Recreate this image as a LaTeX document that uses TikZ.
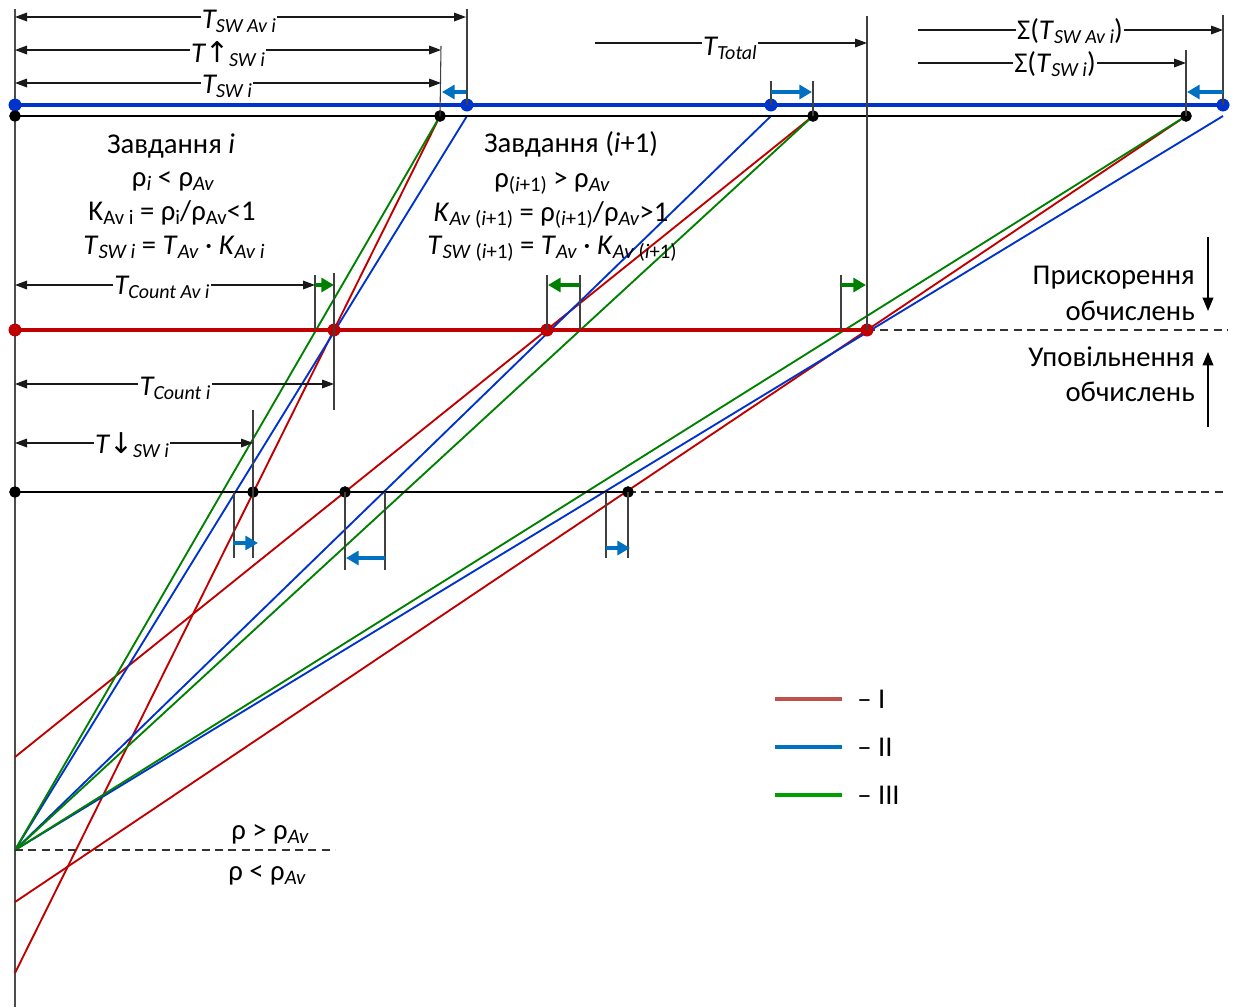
\documentclass[tikz,border=0pt]{standalone}
\usepackage{fontspec}
\setmainfont{Carlito}
\newfontfamily\arrowf{DejaVu Sans}
\usetikzlibrary{arrows.meta}
\definecolor{cred}{RGB}{192,0,0}
\definecolor{cblue}{RGB}{0,51,204}
\definecolor{cgreen}{RGB}{0,128,0}
\definecolor{carrow}{RGB}{0,112,192}
\definecolor{lred}{RGB}{192,80,77}
\definecolor{lblue}{RGB}{0,112,192}
\definecolor{lgreen}{RGB}{0,160,0}
\newcommand\mainsz{\fontsize{21.5}{25}\selectfont}
\newcommand\sbx[1]{\raisebox{-3.5pt}{\fontsize{15}{15}\selectfont #1}}
\newcommand\sbt[1]{\raisebox{-3pt}{\fontsize{15.5}{15}\selectfont #1}}
\tikzset{
  dim/.style={draw=black!90,line width=0.9pt},
  dimboth/.style={dim,{Triangle[length=9pt,width=6.5pt]}-{Triangle[length=9pt,width=6.5pt]}},
  dimright/.style={dim,-{Triangle[length=9pt,width=6.5pt]}},
  ext/.style={draw=black!75,line width=0.8pt},
  lab/.style={fill=white,inner sep=1pt,anchor=base,font=\mainsz},
  txt/.style={inner sep=0pt,anchor=base,font=\mainsz},
  shiftb/.style={draw=carrow,line width=2.5pt,-{Triangle[length=9.5pt,width=10.5pt]}},
  shiftg/.style={draw=cgreen,line width=2.5pt,-{Triangle[length=9.5pt,width=10.5pt]}},
  bdot/.style={circle,fill=cblue,inner sep=0pt,minimum size=9.5pt},
  kdot/.style={circle,fill=black,inner sep=0pt,minimum size=8.5pt},
  rdot/.style={circle,fill=cred,inner sep=0pt,minimum size=9.5pt},
  slr/.style={draw=cred,line width=1.4pt},
  slb/.style={draw=cblue,line width=1.4pt},
  slg/.style={draw=cgreen,line width=1.4pt},
  dashln/.style={draw=black!80,line width=0.8pt,dash pattern=on 6pt off 4pt},
  bigarr/.style={draw=black,line width=1.2pt,-{Triangle[length=10pt,width=8pt]}},
  leg/.style={line width=2.5pt}
}
\begin{document}
\begin{tikzpicture}[x=0.75pt,y=-0.75pt]
\useasboundingbox (0,0) rectangle (1237,1007);
% ---------- coordinates ----------
\coordinate (axT) at (15,9);
\coordinate (axB) at (15,1007);
\coordinate (F) at (15,850);
\coordinate (Fd) at (335,850);
\coordinate (R1s) at (15,973);
\coordinate (R2s) at (15,757);
\coordinate (R3s) at (15,902);
\coordinate (B1e) at (467,116);
\coordinate (B2e) at (771,116);
\coordinate (B3e) at (1223,116);
% ---------- dots (nodes) ----------
\node[bdot] (b0) at (15,105) {};
\node[bdot] (b1) at (467,105) {};
\node[bdot] (b2) at (771,105) {};
\node[bdot] (b3) at (1223,105) {};
\node[kdot] (k0) at (15,116) {};
\node[kdot] (k1) at (440,116) {};
\node[kdot] (k2) at (813,116) {};
\node[kdot] (k3) at (1186,116) {};
\node[rdot] (r0) at (15,330) {};
\node[rdot] (r1) at (334,330) {};
\node[rdot] (r2) at (547,330) {};
\node[rdot] (r3) at (867,330) {};
\node[kdot] (m0) at (15,492) {};
\node[kdot] (m1) at (253,492) {};
\node[kdot] (m2) at (345,492) {};
\node[kdot] (m3) at (628,492) {};
\coordinate (rD) at (1228,330);
\coordinate (mD) at (1225,492);
% ---------- axis ----------
\draw[draw=black!70,line width=1pt] (axT) -- (axB);
% ---------- slanted lines ----------
\draw[slr] (R1s) -- (k1.center);
\draw[slr] (R2s) -- (k2.center);
\draw[slr] (R3s) -- (k3.center);
\draw[slb] (F) -- (B1e);
\draw[slb] (F) -- (B2e);
\draw[slb] (F) -- (B3e);
\draw[slg] (F) -- (k1.center);
\draw[slg] (F) -- (k2.center);
\draw[slg] (F) -- (k3.center);
% ---------- horizontal lines ----------
\draw[draw=cblue,line width=2.4pt] (b0.center) -- (b3.center);
\draw[draw=black,line width=1.7pt] (k0.center) -- (k3.center);
\draw[draw=cred,line width=2.4pt] (r0.center) -- (r3.center);
\draw[draw=black,line width=1.7pt] (m0.center) -- (m3.center);
\draw[dashln] (r3.center) -- (rD);
\draw[dashln] (m3.center) -- (mD);
\draw[dashln] (F) -- (Fd);
% redraw dots on top
\foreach \n in {b0,b1,b2,b3}{\node[bdot] at (\n) {};}
\foreach \n in {k0,k1,k2,k3,m0,m1,m2,m3}{\node[kdot] at (\n) {};}
\foreach \n in {r0,r1,r2,r3}{\node[rdot] at (\n) {};}
% ---------- extension lines ----------
\coordinate (x1) at (467,9);    \draw[ext] (x1) -- (b1.center);
\coordinate (x2) at (441,46);   \draw[ext] (x2) -- (k1.center);
\coordinate (x3) at (771,81);   \draw[ext] (x3) -- (b2.center);
\coordinate (x4) at (813,81);   \draw[ext] (x4) -- (k2.center);
\coordinate (x5) at (867,16);   \draw[ext] (x5) -- (r3.center);
\coordinate (x6) at (1186,50);  \draw[ext] (x6) -- (k3.center);
\coordinate (x7) at (1223,15);  \draw[ext] (x7) -- (b3.center);
\coordinate (x8a) at (315,275); \coordinate (x8b) at (315,330); \draw[ext] (x8a) -- (x8b);
\coordinate (x9a) at (334,273); \coordinate (x9b) at (334,410); \draw[ext] (x9a) -- (x9b);
\coordinate (x10) at (547,275); \draw[ext] (x10) -- (r2.center);
\coordinate (x11a) at (580,275); \coordinate (x11b) at (580,330); \draw[ext] (x11a) -- (x11b);
\coordinate (x12a) at (841,275); \coordinate (x12b) at (841,330); \draw[ext] (x12a) -- (x12b);
\coordinate (x13a) at (253,410); \coordinate (x13b) at (253,558); \draw[ext] (x13a) -- (x13b);
\coordinate (x14a) at (234,492); \coordinate (x14b) at (234,558); \draw[ext] (x14a) -- (x14b);
\coordinate (x15) at (345,570); \draw[ext] (m2.center) -- (x15);
\coordinate (x16a) at (385,492); \coordinate (x16b) at (385,570); \draw[ext] (x16a) -- (x16b);
\coordinate (x17a) at (606,492); \coordinate (x17b) at (606,558); \draw[ext] (x17a) -- (x17b);
\coordinate (x18) at (628,558); \draw[ext] (m3.center) -- (x18);
% ---------- dimension lines ----------
\coordinate (d1a) at (15,17);  \coordinate (d1b) at (466,17);
\draw[dimboth] (d1a) -- (d1b);
\node[lab] (l1) at (239,28) {\itshape T\sbx{SW Av i}};
\coordinate (d2a) at (15,50);  \coordinate (d2b) at (441,50);
\draw[dimboth] (d2a) -- (d2b);
\node[lab] (l2) at (228,62) {\itshape T{\upshape\arrowf ↑}\sbx{SW i}};
\coordinate (d3a) at (15,83);  \coordinate (d3b) at (441,83);
\draw[dimboth] (d3a) -- (d3b);
\node[lab] (l3) at (227,93) {\itshape T\sbx{SW i}};
\coordinate (d4a) at (595,43); \coordinate (d4b) at (867,43);
\draw[dimright] (d4a) -- (d4b);
\node[lab] (l4) at (730,55) {\itshape T\sbx{Total}};
\coordinate (d5a) at (918,30); \coordinate (d5b) at (1223,30);
\draw[dimright] (d5a) -- (d5b);
\node[lab] (l5) at (1070,39) {Σ(\textit{T}\sbx{\itshape SW Av i})};
\coordinate (d6a) at (918,63); \coordinate (d6b) at (1186,63);
\draw[dimright] (d6a) -- (d6b);
\node[lab] (l6) at (1055,72) {Σ(\textit{T}\sbx{\itshape SW i})};
\coordinate (d7a) at (15,285); \coordinate (d7b) at (315,285);
\draw[dimboth] (d7a) -- (d7b);
\node[lab] (l7) at (162,294) {\itshape T\sbx{Count Av i}};
\coordinate (d8a) at (15,384); \coordinate (d8b) at (334,384);
\draw[dimboth] (d8a) -- (d8b);
\node[lab] (l8) at (175,395) {\itshape T\sbx{Count i}};
\coordinate (d9a) at (15,443); \coordinate (d9b) at (253,443);
\draw[dimboth] (d9a) -- (d9b);
\node[lab] (l9) at (132,453) {\itshape T{\upshape\arrowf ↓}\sbx{SW i}};
% ---------- shift arrows ----------
\coordinate (s1a) at (466,92);  \coordinate (s1b) at (442,92);  \draw[shiftb] (s1a) -- (s1b);
\coordinate (s2a) at (771,92);  \coordinate (s2b) at (812,92);  \draw[shiftb] (s2a) -- (s2b);
\coordinate (s3a) at (1223,92); \coordinate (s3b) at (1187,92); \draw[shiftb] (s3a) -- (s3b);
\coordinate (s4a) at (315,285); \coordinate (s4b) at (334,285); \draw[shiftg] (s4a) -- (s4b);
\coordinate (s5a) at (580,285); \coordinate (s5b) at (548,285); \draw[shiftg] (s5a) -- (s5b);
\coordinate (s6a) at (841,285); \coordinate (s6b) at (866,285); \draw[shiftg] (s6a) -- (s6b);
\coordinate (s7a) at (233,543); \coordinate (s7b) at (258,543); \draw[shiftb] (s7a) -- (s7b);
\coordinate (s8a) at (385,558); \coordinate (s8b) at (346,558); \draw[shiftb] (s8a) -- (s8b);
\coordinate (s9a) at (606,548); \coordinate (s9b) at (630,548); \draw[shiftb] (s9a) -- (s9b);
% ---------- task texts ----------
\node[txt] (t1) at (171,153) {Завдання \textit{i}};
\node[txt] (t2) at (173,186) {ρ\sbt{\textit{i}} < ρ\sbt{\textit{Av}}};
\node[txt] (t3) at (172,220) {K\sbt{Av i} = ρ\sbt{i}/ρ\sbt{Av}<1};
\node[txt] (t4) at (174,254) {\textit{T}\sbt{\textit{SW i}} = \textit{T}\sbt{\textit{Av}} · \textit{K}\sbt{\textit{Av i}}};
\node[txt] (u1) at (571,152) {Завдання (\textit{i}+1)};
\node[txt] (u2) at (552,187) {ρ\sbt{(\textit{i}+1)} > ρ\sbt{\textit{Av}}};
\node[txt] (u3) at (551,221) {\textit{K}\sbt{\textit{Av} (\textit{i}+1)} = ρ\sbt{(\textit{i}+1)}/ρ\sbt{\textit{Av}}>1};
\node[txt] (u4) at (552,254) {\textit{T}\sbt{\textit{SW} (\textit{i}+1)} = \textit{T}\sbt{\textit{Av}} · \textit{K}\sbt{\textit{Av} (\textit{i}+1)}};
% ---------- right side ----------
\node[txt,anchor=base east] (p1) at (1195,284) {Прискорення};
\node[txt,anchor=base east] (p2) at (1195,320) {обчислень};
\node[txt,anchor=base east] (q1) at (1195,366) {Уповільнення};
\node[txt,anchor=base east] (q2) at (1195,401) {обчислень};
\coordinate (ad1) at (1208,237); \coordinate (ad2) at (1208,311);
\draw[bigarr] (ad1) -- (ad2);
\coordinate (au1) at (1208,427); \coordinate (au2) at (1208,352);
\draw[bigarr] (au1) -- (au2);
% ---------- rho labels ----------
\node[txt] (rg) at (270,839) {ρ > ρ\sbt{\textit{Av}}};
\node[txt] (rl) at (267,880) {ρ < ρ\sbt{\textit{Av}}};
% ---------- legend ----------
\coordinate (g1a) at (775,699); \coordinate (g1b) at (842,699);
\draw[leg,draw=lred] (g1a) -- (g1b);
\node[txt,anchor=base west] (g1t) at (857,708) {– I};
\coordinate (g2a) at (775,747); \coordinate (g2b) at (842,747);
\draw[leg,draw=lblue] (g2a) -- (g2b);
\node[txt,anchor=base west] (g2t) at (857,756) {– II};
\coordinate (g3a) at (775,795); \coordinate (g3b) at (842,795);
\draw[leg,draw=lgreen] (g3a) -- (g3b);
\node[txt,anchor=base west] (g3t) at (857,804) {– III};
\end{tikzpicture}
\end{document}
